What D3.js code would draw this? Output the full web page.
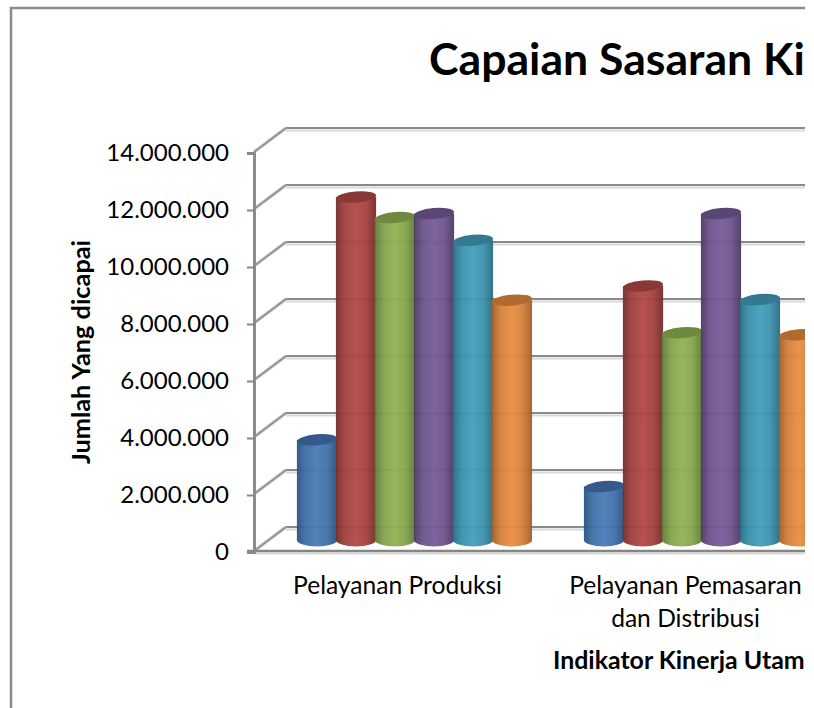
<!DOCTYPE html>
<html>
<head>
<meta charset="utf-8">
<script src="https://cdnjs.cloudflare.com/ajax/libs/d3/7.8.5/d3.min.js"></script>
<style>
  html, body { margin: 0; padding: 0; background: #fff; }
  svg { display: block; font-family: Lato, "Open Sans", sans-serif; }
</style>
</head>
<body>
<div id="chart"></div>
<script>
// chart values
const categories = ['Pelayanan Produksi', 'Pelayanan Pemasaran']
const series = ['s1', 's2', 's3', 's4', 's5', 's6']
const produksi = [3480000, 12000000, 11280000, 11420000, 10480000, 8380000]
const pemasaran = [1840000, 8880000, 7240000, 11420000, 8400000, 7170000]
const yTicks = [0, 2000000, 4000000, 6000000, 8000000, 10000000, 12000000, 14000000]

const width = 814
const height = 708
const clipRight = 805

// fake 3d depth of the chart box
const depthX = 32
const depthY = 24

// [edge, centre, cap]
const colors = [
  ['#2a5280', '#487bb7', '#34598a'],
  ['#742c2a', '#b24845', '#8a3835'],
  ['#607c37', '#92b254', '#6d8a3e'],
  ['#4b3963', '#785c9a', '#5a4674'],
  ['#286b83', '#429fba', '#33798f'],
  ['#9f5e28', '#ea8d42', '#b06c30']
]

const svg = d3.select('#chart').append('svg')
  .attr('width', width)
  .attr('height', height)

const defs = svg.append('defs')
defs.append('clipPath').attr('id', 'page')
  .append('rect').attr('x', 0).attr('y', 0).attr('width', clipRight).attr('height', height)

colors.forEach((c, i) => {
  const g = defs.append('linearGradient').attr('id', `cyl${i}`)
  g.append('stop').attr('offset', '0%').attr('stop-color', c[0])
  g.append('stop').attr('offset', '22%').attr('stop-color', d3.interpolateRgb(c[0], c[1])(0.7))
  g.append('stop').attr('offset', '50%').attr('stop-color', c[1])
  g.append('stop').attr('offset', '75%').attr('stop-color', d3.interpolateRgb(c[0], c[1])(0.75))
  g.append('stop').attr('offset', '100%').attr('stop-color', c[0])
})

const root = svg.append('g').attr('clip-path', 'url(#page)')

// outer border, only top and left are in frame
root.append('path')
  .attr('d', `M11,${height}V8H${width}`)
  .attr('fill', 'none')
  .attr('stroke', '#8c8c8c')
  .attr('stroke-width', 2.5)

// scales, on the front plane of the box
const y = d3.scaleLinear().domain([0, 14000000]).range([551, 152])
const x = d3.scaleBand().domain(categories).range([254, 828])
const xs = d3.scaleBand().domain(series).range([-116, 118])

// back wall gridlines with their soft shadow
const grid = root.append('g')
yTicks.forEach((t) => {
  const gy = y(t) - depthY
  grid.append('line')
    .attr('x1', 254 + depthX).attr('x2', width)
    .attr('y1', gy + 2.5).attr('y2', gy + 2.5)
    .attr('stroke', '#d9d9d9').attr('stroke-width', 2)
  grid.append('line')
    .attr('x1', 254 + depthX).attr('x2', width)
    .attr('y1', gy).attr('y2', gy)
    .attr('stroke', '#8a8a8a').attr('stroke-width', 2.2)
  // side wall diagonal
  grid.append('line')
    .attr('x1', 254).attr('x2', 254 + depthX)
    .attr('y1', y(t)).attr('y2', gy)
    .attr('stroke', '#d4d4d4').attr('stroke-width', 3.5)
  grid.append('line')
    .attr('x1', 254).attr('x2', 254 + depthX)
    .attr('y1', y(t)).attr('y2', gy)
    .attr('stroke', '#8f8f8f').attr('stroke-width', 1.6)
})

// floor line
root.append('line')
  .attr('x1', 254).attr('x2', width)
  .attr('y1', y(0) + 2.5).attr('y2', y(0) + 2.5)
  .attr('stroke', '#d9d9d9').attr('stroke-width', 2)
root.append('line')
  .attr('x1', 247).attr('x2', width)
  .attr('y1', y(0)).attr('y2', y(0))
  .attr('stroke', '#868686').attr('stroke-width', 2.5)

// y axis
const fmt = d3.formatLocale({ decimal: ',', thousands: '.', grouping: [3], currency: ['', ''] }).format(',d')
const yAxis = root.append('g')
  .attr('transform', 'translate(254,1)')
  .call(d3.axisLeft(y).tickValues(yTicks).tickFormat(fmt).tickSize(7).tickPadding(18))
yAxis.selectAll('.domain').attr('stroke', '#8c8c8c').attr('stroke-width', 3)
yAxis.selectAll('.tick line').attr('stroke', '#868686').attr('stroke-width', 2)
yAxis.selectAll('text')
  .attr('fill', '#000')
  .style('font-size', '24px')
  .style('font-family', 'Lato, sans-serif')

// cylinders
const rows = [produksi, pemasaran]
const baseY = y(0) - depthY / 2
const capRy = 5.5
rows.forEach((vals, ci) => {
  const group = root.append('g')
    .attr('transform', `translate(${x(categories[ci]) + x.bandwidth() / 2 + depthX / 2},0)`)
  vals.forEach((v, si) => {
    const bx = xs(series[si])
    const w = xs.bandwidth()
    const rx = w / 2 + 0.6
    const top = y(v) - depthY / 2
    const cx = bx + w / 2
    const g = group.append('g')
    g.append('path')
      .attr('d', `M${cx - rx},${top}V${baseY + 1}` +
        `A${rx},${capRy + 1} 0 0 0 ${cx + rx},${baseY + 1}V${top}Z`)
      .attr('fill', `url(#cyl${si})`)
      .attr('fill-opacity', 0.95)
    g.append('ellipse')
      .attr('cx', cx).attr('cy', top)
      .attr('rx', rx).attr('ry', capRy)
      .attr('transform', `rotate(-5 ${cx} ${top})`)
      .attr('fill', colors[si][2])
  })
})

// category labels
const labelSize = '24.6px'
root.append('text')
  .attr('x', x(categories[0]) + x.bandwidth() / 2)
  .attr('y', 594)
  .attr('text-anchor', 'middle')
  .style('font-size', labelSize)
  .text(categories[0])
root.append('text')
  .attr('x', x(categories[1]) + x.bandwidth() / 2 + 1)
  .attr('y', 594)
  .attr('text-anchor', 'middle')
  .style('font-size', labelSize)
  .text(categories[1])
root.append('text')
  .attr('x', x(categories[1]) + x.bandwidth() / 2 + 1)
  .attr('y', 627)
  .attr('text-anchor', 'middle')
  .style('font-size', labelSize)
  .text('dan Distribusi')

// titles
root.append('text')
  .attr('x', 429)
  .attr('y', 75)
  .attr('font-weight', 700)
  .style('font-size', '44.6px')
  .text('Capaian Sasaran Ki')
root.append('text')
  .attr('x', 553)
  .attr('y', 669)
  .attr('font-weight', 700)
  .style('font-size', '24.9px')
  .text('Indikator Kinerja Utam')
root.append('text')
  .attr('transform', 'translate(90,352) rotate(-90)')
  .attr('text-anchor', 'middle')
  .attr('font-weight', 700)
  .style('font-size', '25.3px')
  .text('Jumlah Yang dicapai')
</script>
</body>
</html>
